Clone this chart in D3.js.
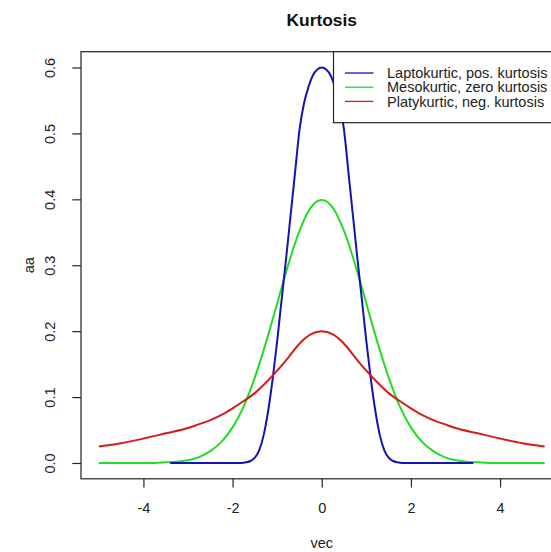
<!DOCTYPE html>
<html>
<head>
<meta charset="utf-8">
<script src="https://cdn.jsdelivr.net/npm/d3@7"></script>
<style>
  html, body { margin: 0; padding: 0; background: #fff; }
  svg { display: block; font-family: "Liberation Sans", Arial, sans-serif; }
</style>
</head>
<body>
<svg id="chart" width="551" height="552"></svg>
<script>
// Leptokurtic density (blue)
const leptoX = [-3.4, -1.8, -1.7, -1.6, -1.5, -1.4, -1.3, -1.2, -1.1, -1.0, -0.9, -0.8, -0.7, -0.6, -0.5, -0.4, -0.3, -0.2, -0.1,
                 0, 0.1, 0.2, 0.3, 0.4, 0.5, 0.6, 0.7, 0.8, 0.9, 1.0, 1.1, 1.2, 1.3, 1.4, 1.5, 1.6, 1.7, 1.8, 3.4];
const leptoY = [0, 0, 0.001, 0.003, 0.008, 0.020, 0.043, 0.080, 0.128, 0.185, 0.248, 0.310, 0.375, 0.440, 0.505, 0.545, 0.570, 0.588, 0.597,
                0.600, 0.597, 0.588, 0.570, 0.545, 0.505, 0.440, 0.375, 0.310, 0.248, 0.185, 0.128, 0.080, 0.043, 0.020, 0.008, 0.003, 0.001, 0, 0];

// Mesokurtic density (green)
const mesoX = [-5, -4.5, -4, -3.75, -3.5, -3.25, -3, -2.75, -2.5, -2.25, -2, -1.75, -1.5, -1.25, -1, -0.75, -0.5, -0.25,
               0, 0.25, 0.5, 0.75, 1, 1.25, 1.5, 1.75, 2, 2.25, 2.5, 2.75, 3, 3.25, 3.5, 3.75, 4, 4.5, 5];
const mesoY = [0, 0, 0, 0, 0.001, 0.002, 0.004, 0.009, 0.018, 0.032, 0.054, 0.086, 0.130, 0.183, 0.242, 0.301, 0.352, 0.387,
               0.399, 0.387, 0.352, 0.301, 0.242, 0.183, 0.130, 0.086, 0.054, 0.032, 0.018, 0.009, 0.004, 0.002, 0.001, 0, 0, 0, 0];

// Platykurtic density (red)
const platyX = [-5, -4.5, -4, -3.5, -3, -2.75, -2.5, -2.25, -2, -1.75, -1.5, -1.25, -1, -0.75, -0.5, -0.25,
                0, 0.25, 0.5, 0.75, 1, 1.25, 1.5, 1.75, 2, 2.25, 2.5, 2.75, 3, 3.5, 4, 4.5, 5];
const platyY = [0.025, 0.030, 0.037, 0.045, 0.053, 0.059, 0.065, 0.073, 0.083, 0.094, 0.106, 0.122, 0.140, 0.160, 0.181, 0.195,
                0.200, 0.195, 0.181, 0.160, 0.140, 0.122, 0.106, 0.094, 0.083, 0.073, 0.065, 0.059, 0.053, 0.045, 0.037, 0.030, 0.025];

const xTicks = [-4, -2, 0, 2, 4];
const yTicks = [0.0, 0.1, 0.2, 0.3, 0.4, 0.5, 0.6];

const legendLabels = ["Laptokurtic, pos. kurtosis", "Mesokurtic, zero kurtosis", "Platykurtic, neg. kurtosis"];
const seriesColors = ["#1414b4", "#22dd22", "#d41c1c"];

const titleText = "Kurtosis";
const xLabel = "vec";
const yLabel = "aa";

// plot region (R-style 4% padding around the data range)
const plotL = 81, plotR = 562.5, plotT = 51.7, plotB = 478.8;
const x = d3.scaleLinear().domain([-5.4, 5.4]).range([plotL, plotR]);
const y = d3.scaleLinear().domain([-0.024, 0.624]).range([plotB, plotT]);

const svg = d3.select("#chart");
const ink = "#222";
const fontSize = 14.5;

// curves
const line = d3.line().x(d => x(d[0])).y(d => y(d[1])).curve(d3.curveMonotoneX);
const series = [
  { xs: mesoX, ys: mesoY, color: seriesColors[1] },
  { xs: leptoX, ys: leptoY, color: seriesColors[0] },
  { xs: platyX, ys: platyY, color: seriesColors[2] }
];
svg.append("g").selectAll("path").data(series).join("path")
  .attr("d", s => line(s.xs.map((v, i) => [v, s.ys[i]])))
  .attr("fill", "none")
  .attr("stroke", s => s.color)
  .attr("stroke-width", 2)
  .attr("stroke-linejoin", "round");

// plot box
svg.append("rect")
  .attr("x", plotL).attr("y", plotT)
  .attr("width", plotR - plotL).attr("height", plotB - plotT)
  .attr("fill", "none").attr("stroke", ink).attr("stroke-width", 1.2);

// bottom axis
const gx = svg.append("g").attr("transform", `translate(0,${plotB})`)
  .call(d3.axisBottom(x).tickValues(xTicks).tickSize(8.7).tickSizeOuter(0).tickPadding(15).tickFormat(d3.format("d")));
gx.select(".domain").remove();
gx.selectAll("line").attr("stroke", ink).attr("stroke-width", 1.2);
gx.selectAll("text").attr("font-size", fontSize).attr("font-family", "Liberation Sans, Arial, sans-serif").attr("fill", ink)
  .text(d => d < 0 ? "-" + Math.abs(d) : String(d));

// left axis with rotated labels
const gy = svg.append("g").attr("transform", `translate(${plotL},0)`)
  .call(d3.axisLeft(y).tickValues(yTicks).tickSize(8.7).tickSizeOuter(0).tickFormat(d3.format(".1f")));
gy.select(".domain").remove();
gy.selectAll("line").attr("stroke", ink).attr("stroke-width", 1.2);
gy.selectAll("text")
  .attr("font-size", fontSize).attr("font-family", "Liberation Sans, Arial, sans-serif").attr("fill", ink)
  .attr("transform", "rotate(-90)")
  .attr("x", 0).attr("y", -26.5).attr("dy", null)
  .attr("text-anchor", "middle");

// title and axis titles
svg.append("text").attr("x", (plotL + plotR) / 2).attr("y", 26)
  .attr("text-anchor", "middle").attr("font-weight", "bold").attr("font-size", 17.4).attr("fill", "#111")
  .text(titleText);
svg.append("text").attr("x", (plotL + plotR) / 2).attr("y", 548)
  .attr("text-anchor", "middle").attr("font-size", fontSize).attr("fill", ink)
  .text(xLabel);
svg.append("text").attr("transform", `translate(34,${(plotT + plotB) / 2}) rotate(-90)`)
  .attr("text-anchor", "middle").attr("font-size", fontSize).attr("fill", ink)
  .text(yLabel);

// legend (top right, anchored to the plot corner)
const leg = svg.append("g");
leg.append("rect")
  .attr("x", 333.5).attr("y", plotT)
  .attr("width", plotR - 333.5).attr("height", 122.7 - plotT)
  .attr("fill", "#fff").attr("stroke", ink).attr("stroke-width", 1.2);
const rowY = [73, 87.2, 101.4];
legendLabels.forEach((lab, i) => {
  leg.append("line")
    .attr("x1", 345).attr("x2", 373.5).attr("y1", rowY[i]).attr("y2", rowY[i])
    .attr("stroke", seriesColors[i]).attr("stroke-width", 1.3);
  leg.append("text")
    .attr("x", 387).attr("y", rowY[i]).attr("dy", "0.36em")
    .attr("font-size", fontSize).attr("fill", ink)
    .text(lab);
});
</script>
</body>
</html>
